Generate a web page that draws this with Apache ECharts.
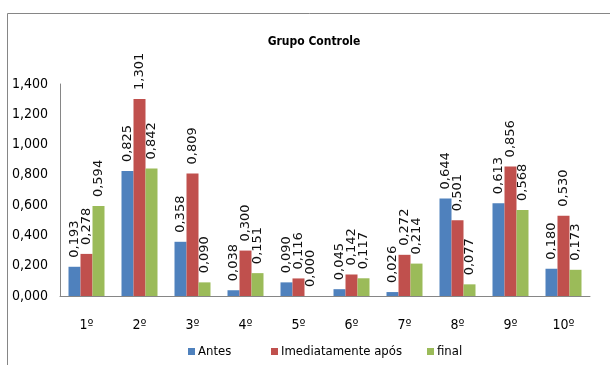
<!DOCTYPE html>
<html>
<head>
<meta charset="utf-8">
<script src="https://cdn.jsdelivr.net/npm/echarts@6/dist/echarts.min.js"></script>
<style>html,body{margin:0;padding:0;background:#fff}#c{width:610px;height:365px}</style>
</head>
<body>
<div id="c"></div>
<script>
var categories = ['1º','2º','3º','4º','5º','6º','7º','8º','9º','10º'];
var antes = [0.193, 0.825, 0.358, 0.038, 0.090, 0.045, 0.026, 0.644, 0.613, 0.180];
var imediatamente = [0.278, 1.301, 0.809, 0.300, 0.116, 0.142, 0.272, 0.501, 0.856, 0.530];
var finalV = [0.594, 0.842, 0.090, 0.151, 0.000, 0.117, 0.214, 0.077, 0.568, 0.173];
var seriesNames = ['Antes', 'Imediatamente após', 'final'];
var colors = ['#4F81BD', '#C0504D', '#9BBB59'];

var narrow = "'Liberation Sans Narrow', 'DejaVu Sans Condensed', sans-serif";
function fmt(v){ return v.toFixed(3).replace('.', ','); }

var chart = echarts.init(document.getElementById('c'));
function mk(name, data, color){
  return {
    name: name, type: 'bar', data: data, barWidth: 12, barGap: '0%',
    itemStyle: {color: color},
    label: {
      show: true, position: 'top', rotate: 90, align: 'left', verticalAlign: 'middle',
      distance: 9, fontFamily: "'DejaVu Sans', sans-serif", fontSize: 13, color: '#111',
      formatter: function(p){ return fmt(p.value); }
    }
  };
}
var legendLefts = [183, 266, 422];
function lg(i){
  return {
    data: [seriesNames[i]], left: legendLefts[i], top: 340, itemWidth: 7, itemHeight: 7,
    icon: 'rect', itemGap: 0,
    textStyle: {fontFamily: narrow, fontSize: 13, color: '#000', padding: [0,0,0,-2]}
  };
}
chart.setOption({
  animation: false,
  title: {
    text: 'Grupo Controle', left: 309, top: 31, textAlign: 'center',
    textStyle: {fontFamily: narrow, fontSize: 12, fontWeight: 'bold', color: '#000'}
  },
  graphic: [{
    type: 'rect', shape: {x: 7.5, y: 13.5, width: 700, height: 500},
    style: {fill: 'none', stroke: '#868686', lineWidth: 1}, silent: true
  }],
  legend: [lg(0), lg(1), lg(2)],
  grid: {left: 60, right: 20, top: 84, bottom: 69},
  xAxis: {
    type: 'category', data: categories,
    axisLine: {lineStyle: {color: '#868686'}},
    axisTick: {show: false},
    axisLabel: {margin: 22, fontFamily: narrow, fontSize: 14, color: '#000'}
  },
  yAxis: {
    type: 'value', min: 0, max: 1.4, interval: 0.2,
    axisLine: {show: true, lineStyle: {color: '#868686'}},
    axisTick: {show: false},
    splitLine: {show: false},
    axisLabel: {margin: 12, fontFamily: narrow, fontSize: 14, color: '#000', formatter: fmt}
  },
  series: [mk(seriesNames[0], antes, colors[0]), mk(seriesNames[1], imediatamente, colors[1]), mk(seriesNames[2], finalV, colors[2])]
});
</script>
</body>
</html>
